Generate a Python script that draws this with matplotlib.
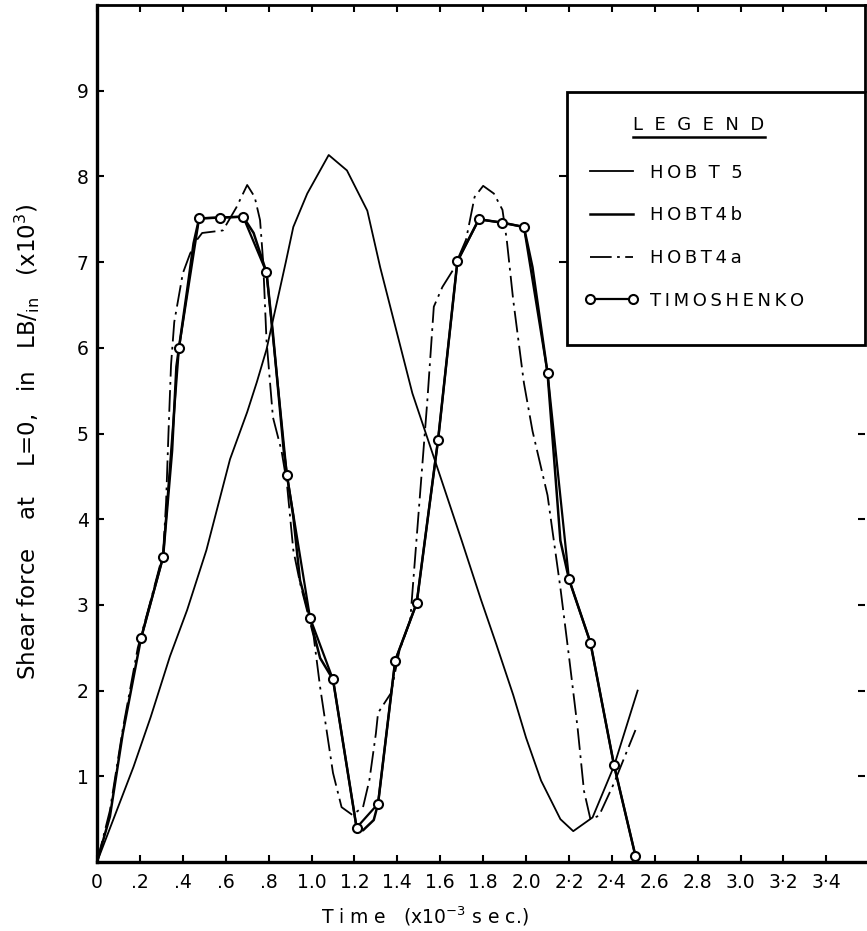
import numpy as np
import matplotlib
matplotlib.use("Agg")
import matplotlib.pyplot as plt
from matplotlib.patches import Rectangle
from matplotlib.lines import Line2D

# HOBT5 - single big hump
time_hobt5 = [0, 0.075, 0.17, 0.25, 0.34, 0.42, 0.51, 0.62, 0.70, 0.745, 0.79, 0.88, 0.915,
              0.98, 1.08, 1.165, 1.26, 1.32, 1.47, 1.6, 1.7, 1.79, 1.86, 1.94, 2.0,
              2.07, 2.16, 2.22, 2.31, 2.41, 2.52]
shear_hobt5 = [0, 0.49, 1.11, 1.69, 2.4, 2.94, 3.64, 4.7, 5.25, 5.6, 5.98, 7.0, 7.41,
               7.8, 8.25, 8.07, 7.6, 6.94, 5.47, 4.5, 3.75, 3.06, 2.55, 1.95, 1.45,
               0.95, 0.5, 0.36, 0.52, 1.12, 2.0]

# HOBT4b - solid, follows timoshenko closely
time_hobt4b = [0, 0.06, 0.12, 0.205, 0.308, 0.35, 0.37, 0.382, 0.42, 0.45, 0.476, 0.573,
               0.681, 0.73, 0.79, 0.82, 0.87, 0.885, 0.915, 0.946, 0.993, 1.01, 1.04, 1.10,
               1.21, 1.24, 1.29, 1.31, 1.39, 1.49, 1.59, 1.68, 1.78, 1.89, 1.99, 2.03,
               2.10, 2.16, 2.20, 2.30, 2.41, 2.51]
shear_hobt4b = [0, 0.53, 1.5, 2.61, 3.56, 4.8, 5.78, 6.0, 6.67, 7.22, 7.51, 7.52,
                7.53, 7.34, 6.88, 6.17, 4.81, 4.52, 4.03, 3.29, 2.85, 2.67, 2.38, 2.13,
                0.40, 0.37, 0.49, 0.68, 2.35, 3.02, 4.93, 7.01, 7.50, 7.46, 7.41, 6.94,
                5.71, 3.75, 3.30, 2.56, 1.13, 0.07]

# HOBT4a - dash dot
time_hobt4a = [0, 0.06, 0.12, 0.19, 0.25, 0.308, 0.322, 0.333, 0.345, 0.36, 0.40, 0.434,
               0.466, 0.49, 0.587, 0.65, 0.70, 0.735, 0.76, 0.774, 0.79, 0.82, 0.86, 0.885,
               0.915, 0.946, 1.01, 1.04, 1.07, 1.10, 1.14, 1.19, 1.24, 1.27, 1.30, 1.31,
               1.37, 1.41, 1.46, 1.54, 1.57, 1.61, 1.66, 1.72, 1.76, 1.80, 1.85, 1.89,
               1.91, 1.94, 1.99, 2.03, 2.10, 2.16, 2.20, 2.24, 2.27, 2.30, 2.34, 2.41, 2.51]
shear_hobt4a = [0, 0.6, 1.55, 2.5, 3.05, 3.6, 4.2, 5.0, 5.8, 6.3, 6.87, 7.1,
                7.26, 7.34, 7.37, 7.64, 7.90, 7.76, 7.49, 7.02, 6.09, 5.19, 4.8, 4.42,
                3.64, 3.26, 2.63, 2.04, 1.54, 1.04, 0.64, 0.55, 0.64, 0.96, 1.5, 1.74,
                1.97, 2.47, 2.82, 5.39, 6.48, 6.71, 6.91, 7.26, 7.76, 7.89, 7.80, 7.61,
                7.26, 6.56, 5.59, 5.03, 4.28, 3.2, 2.4, 1.57, 0.83, 0.5, 0.54, 0.92, 1.54]

# TIMOSHENKO - circles
time_timo = [0.205, 0.308, 0.382, 0.476, 0.573, 0.681, 0.79, 0.885, 0.993, 1.10, 1.21, 1.31,
             1.39, 1.49, 1.59, 1.68, 1.78, 1.89, 1.99, 2.10, 2.20, 2.30, 2.41, 2.51]
shear_timo = [2.61, 3.56, 6.00, 7.51, 7.52, 7.53, 6.88, 4.52, 2.85, 2.13, 0.40, 0.68,
              2.35, 3.02, 4.93, 7.01, 7.50, 7.46, 7.41, 5.71, 3.30, 2.56, 1.13, 0.07]

x_ticks = [0, 0.2, 0.4, 0.6, 0.8, 1.0, 1.2, 1.4, 1.6, 1.8, 2.0, 2.2, 2.4, 2.6, 2.8, 3.0, 3.2, 3.4]
x_tick_labels = ["0", ".2", ".4", ".6", ".8", "1.0", "1.2", "1.4", "1.6", "1.8", "2.0",
                 "2·2", "2·4", "2.6", "2.8", "3.0", "3·2", "3·4"]
y_ticks = [1, 2, 3, 4, 5, 6, 7, 8, 9]
y_ticks_right = [1, 2, 3, 4, 5]
y_ticks_legend_edge = [7, 8]

plt.rcParams['font.family'] = 'DejaVu Sans'
fig = plt.figure(figsize=(8.67, 9.31), dpi=100)
ax = fig.add_axes([0.1119, 0.0741, 0.8858, 0.9205])

thin = "\u2009"
ax.plot(time_hobt5, shear_hobt5, color='black', lw=1.3, label=thin.join("HOB") + "  T  5")
ax.plot(time_hobt4b, shear_hobt4b, color='black', lw=1.8, label=thin.join("HOBT4b"))
ax.plot(time_hobt4a, shear_hobt4a, color='black', lw=1.3, dashes=(12, 3, 1.5, 3),
        label=thin.join("HOBT4a"))
ax.plot(time_timo, shear_timo, color='black', lw=1.6, marker='o', ms=6.5,
        mfc='white', mec='black', mew=1.5, label=thin.join("TIMOSHENKO"))

ax.set_xlim(0, 3.58)
ax.set_ylim(0, 10)
ax.set_xticks(x_ticks)
ax.set_xticklabels(x_tick_labels)
ax.set_yticks(y_ticks)
ax.tick_params(axis='both', direction='in', length=5, width=1.5, labelsize=13.5, pad=6)
ax.tick_params(axis='x', top=True, pad=8)
ax.tick_params(axis='y', right=False)

for s in ['left', 'bottom']:
    ax.spines[s].set_linewidth(2.4)
ax.spines['top'].set_linewidth(2.0)
ax.spines['right'].set_linewidth(2.0)
ax.spines['right'].set_bounds(9.0, 10)

sec = ax.secondary_yaxis('right')
sec.set_yticks(y_ticks_right)
sec.set_yticklabels([])
sec.tick_params(direction='in', length=5, width=1.5)
for sp in sec.spines.values():
    sp.set_visible(False)

# little ticks sitting on the left edge of the legend box
edge = ax.secondary_yaxis(0.612)
edge.set_yticks(y_ticks_legend_edge)
edge.set_yticklabels([])
edge.yaxis.set_ticks_position('left')
edge.tick_params(direction='out', length=6, width=1.5)
for sp in edge.spines.values():
    sp.set_visible(False)
edge.set_zorder(5)

ax.set_ylabel("Shear force    at    L=0,   in   LB$/_{\\mathrm{in}}$   (x10$^3$)", fontsize=16.5)
ax.yaxis.set_label_coords(-0.072, 0.49)
ax.set_xlabel("T i m e   (x10$^{-3}$ s e c.)", fontsize=13.5)
ax.xaxis.set_label_coords(0.427, -0.05)

# legend box
ax.add_patch(Rectangle((0.612, 0.603), 0.388, 0.295, transform=ax.transAxes,
                       facecolor='white', edgecolor='black', lw=2, zorder=3, clip_on=False))
leg = ax.legend(loc='upper left', bbox_to_anchor=(0.635, 0.815), frameon=False, fontsize=13,
                handlelength=3.0, handletextpad=0.6, labelspacing=1.37, numpoints=2,
                borderpad=0, borderaxespad=0)
leg.set_zorder(4)
title = ax.text(0.784, 0.860, "L  E  G  E  N  D", transform=ax.transAxes, ha='center',
                va='center', fontsize=13, zorder=4)
fig.canvas.draw()
bb = title.get_window_extent().transformed(ax.transAxes.inverted())
ax.add_line(Line2D([bb.x0, bb.x1], [bb.y0 - 0.004, bb.y0 - 0.004], transform=ax.transAxes,
                   color='black', lw=1.8, zorder=4))

fig.savefig("out.png", dpi=100)
